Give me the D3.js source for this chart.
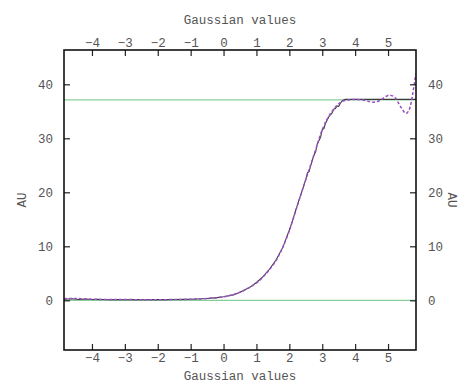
<!DOCTYPE html>
<html>
<head>
<meta charset="utf-8">
<script src="https://cdn.jsdelivr.net/npm/d3@7"></script>
<style>
  html, body { margin: 0; padding: 0; background: #fff; }
  svg { display: block; }
  text { font-family: "Liberation Mono", "DejaVu Sans Mono", monospace; fill: #555; }
</style>
</head>
<body>
<svg id="chart" width="462" height="384"></svg>
<script>
// ---- data ----
const xTicks = [-4, -3, -2, -1, 0, 1, 2, 3, 4, 5];
const yTicks = [0, 10, 20, 30, 40];
const xTitle = "Gaussian values";
const yTitle = "AU";
const refLevels = [0, 37.1];

// measured data (black)
const dataX = [-4.85, -4.6, -4.4, -4.2, -4.0, -3.8, -3.5, -3.2, -3.0, -2.7, -2.4, -2.1, -1.8, -1.5, -1.2, -1.0, -0.8, -0.5, -0.2, 0.0, 0.3, 0.5, 0.8, 1.0, 1.2, 1.4, 1.6, 1.8, 2.0, 2.1, 2.2, 2.3, 2.4, 2.5, 2.55, 2.6, 2.65, 2.75, 2.8, 2.85, 2.95, 3.0, 3.05, 3.1, 3.2, 3.3, 3.35, 3.4, 3.45, 3.5, 3.55, 3.62, 3.7, 5.85];
const dataY = [0.2, 0.3, 0.15, 0.25, 0.15, 0.2, 0.1, 0.15, 0.1, 0.12, 0.1, 0.15, 0.12, 0.15, 0.18, 0.2, 0.25, 0.35, 0.5, 0.65, 1.0, 1.5, 2.4, 3.3, 4.4, 5.8, 7.5, 9.8, 13.0, 14.8, 16.8, 18.7, 20.5, 22.4, 23.6, 23.8, 25.0, 26.9, 27.5, 29.0, 30.2, 31.6, 31.8, 32.8, 34.0, 34.7, 35.4, 35.5, 36.0, 35.9, 36.5, 37.0, 37.2, 37.2];

// fitted curve (purple dashed)
const fitX = [-4.85, -4.5, -4.0, -3.5, -3.0, -2.5, -2.0, -1.5, -1.0, -0.5, 0.0, 0.5, 1.0, 1.2, 1.4, 1.6, 1.8, 2.0, 2.2, 2.4, 2.6, 2.8, 3.0, 3.2, 3.4, 3.6, 3.8, 4.0, 4.24, 4.45, 4.6, 4.75, 4.9, 5.05, 5.2, 5.3, 5.41, 5.54, 5.62, 5.7, 5.77, 5.85];
const fitY = [0.3, 0.35, 0.2, 0.15, 0.15, 0.1, 0.1, 0.15, 0.2, 0.35, 0.65, 1.5, 3.2, 4.3, 5.7, 7.4, 9.8, 12.9, 16.7, 20.5, 24.2, 27.9, 31.6, 34.1, 35.8, 36.8, 37.1, 37.2, 37.1, 36.8, 36.7, 37.0, 37.6, 38.0, 37.6, 36.7, 35.6, 34.6, 35.0, 36.5, 39.0, 42.0];

// ---- layout ----
const svg = d3.select("#chart");
const L = 64, R = 416, T = 50, B = 350;
const x = d3.scaleLinear().domain([-4.85, 5.85]).range([L, R]);
const y = d3.scaleLinear().domain([-9.2, 46.35]).range([B, T]);

svg.append("defs").append("clipPath").attr("id", "plotclip")
  .append("rect").attr("x", L).attr("y", T).attr("width", R - L).attr("height", B - T);

const plot = svg.append("g").attr("clip-path", "url(#plotclip)");

// reference lines
plot.selectAll("line.ref").data(refLevels).enter().append("line")
  .attr("class", "ref")
  .attr("x1", L).attr("x2", R)
  .attr("y1", d => y(d)).attr("y2", d => y(d))
  .attr("stroke", "#86cf98").attr("stroke-width", 1.2);

// data line
const dataPts = dataX.map((v, i) => [v, dataY[i]]);
plot.append("path").datum(dataPts)
  .attr("fill", "none").attr("stroke", "#3a3a3a").attr("stroke-width", 1.1)
  .attr("d", d3.line().x(d => x(d[0])).y(d => y(d[1])));

// fit line
const fitPts = fitX.map((v, i) => [v, fitY[i]]);
plot.append("path").datum(fitPts)
  .attr("fill", "none").attr("stroke", "#9b4fc8").attr("stroke-width", 1.5)
  .attr("stroke-dasharray", "3,2")
  .attr("d", d3.line().curve(d3.curveCatmullRom.alpha(0.5)).x(d => x(d[0])).y(d => y(d[1])));

// axes
const fs = "12.5px";
function styleAxis(g) {
  g.select(".domain").remove();
  g.selectAll(".tick line").attr("stroke", "#222").attr("stroke-width", 1.2);
  g.selectAll(".tick text").style("font-size", fs).attr("fill", "#555")
    .style("font-family", '"Liberation Mono", monospace');
}
const fmt = d => d < 0 ? "\u2212" + Math.abs(d) : String(d);

svg.append("g").attr("transform", `translate(0,${B})`)
  .call(d3.axisBottom(x).tickValues(xTicks).tickSize(-6).tickPadding(3).tickFormat(fmt))
  .call(styleAxis);
svg.append("g").attr("transform", `translate(0,${T})`)
  .call(d3.axisTop(x).tickValues(xTicks).tickSize(-6).tickPadding(3).tickFormat(fmt))
  .call(styleAxis);
svg.append("g").attr("transform", `translate(${L},0)`)
  .call(d3.axisLeft(y).tickValues(yTicks).tickSize(-6).tickPadding(11))
  .call(styleAxis);
svg.append("g").attr("transform", `translate(${R},0)`)
  .call(d3.axisRight(y).tickValues(yTicks).tickSize(-6).tickPadding(12))
  .call(styleAxis);

// frame
svg.append("rect").attr("x", L).attr("y", T).attr("width", R - L).attr("height", B - T)
  .attr("fill", "none").attr("stroke", "#111").attr("stroke-width", 1.6);

// titles
svg.append("text").attr("x", 240).attr("y", 24).attr("text-anchor", "middle")
  .style("font-size", fs).text(xTitle);
svg.append("text").attr("x", 240).attr("y", 380).attr("text-anchor", "middle")
  .style("font-size", fs).text(xTitle);
svg.append("text").attr("transform", "translate(22,200) rotate(-90)")
  .attr("text-anchor", "middle").attr("dy", "0.35em").style("font-size", fs).text(yTitle);
svg.append("text").attr("transform", "translate(452,200) rotate(90)")
  .attr("text-anchor", "middle").attr("dy", "0.35em").style("font-size", fs).text(yTitle);
</script>
</body>
</html>
